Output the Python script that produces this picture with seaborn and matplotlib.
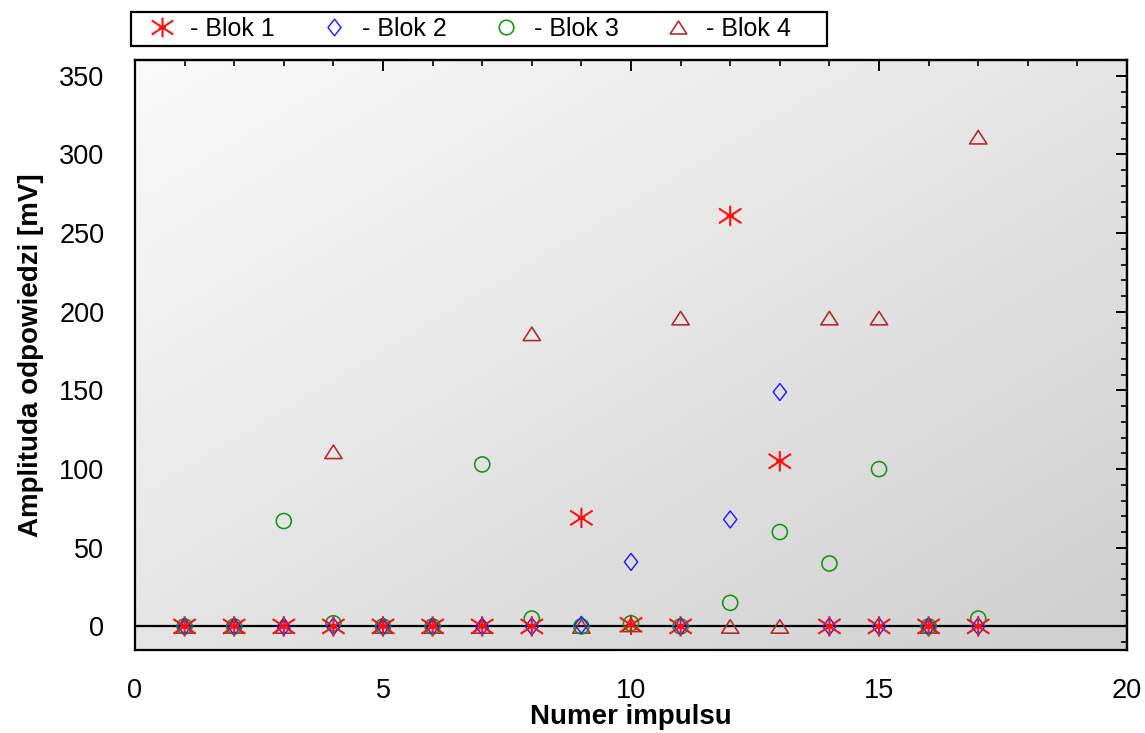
import numpy as np
import pandas as pd
import matplotlib
matplotlib.use("Agg")
import matplotlib.pyplot as plt
from matplotlib.lines import Line2D
from matplotlib.path import Path
from matplotlib.patches import Rectangle
from matplotlib.colors import LinearSegmentedColormap
from matplotlib.ticker import MultipleLocator
import seaborn as sns

# Pulse numbers and response amplitudes [mV] for each block
impulsy = list(range(1, 18))
blok1 = [0, 0, 0, 0, 0, 0, 0, 0, 69, 1, 0, 261, 105, 0, 0, 0, 0]
blok2 = [0, 0, 0, 0, 0, 0, 0, 0, 1, 41, 0, 68, 149, 0, 0, 0, 0]
blok3 = [0, 0, 67, 2, 0, 0, 103, 5, 0, 2, 0, 15, 60, 40, 100, 0, 5]
blok4 = [0, 0, 0, 111, 0, 0, 0, 186, 0, 1, 196, 0, 0, 196, 196, 0, 311]
etykiety = ["- Blok 1", "- Blok 2", "- Blok 3", "- Blok 4"]

sns.set_theme(style="white")
plt.rcParams["font.family"] = ["Liberation Sans", "DejaVu Sans"]

# Marker shapes: asterisk, narrow diamond, flat triangle
M = Path.MOVETO
L = Path.LINETO
gwiazdka = Path(
    [(0, -1), (0, 1), (-1.1, -0.72), (1.1, 0.72), (-1.1, 0.72), (1.1, -0.72),
     (-0.35, 0), (0.35, 0)],
    [M, L, M, L, M, L, M, L])
romb = Path([(0, 1), (0.78, 0), (0, -1), (-0.78, 0), (0, 1)],
            [M, L, L, L, Path.CLOSEPOLY])
trojkat = Path([(0, 0.78), (1, -0.78), (-1, -0.78), (0, 0.78)],
               [M, L, L, Path.CLOSEPOLY])

kol1, kol2, kol3, kol4 = "#ff1010", "#2020ff", "#139413", "#b02828"

fig = plt.figure(figsize=(11.45, 7.33), dpi=100)
ax = fig.add_axes([0.1179, 0.1132, 0.8664, 0.8048])

# Diagonal grey gradient behind the data (light top-left, darker bottom-right)
gx, gy = np.meshgrid(np.linspace(0, 1, 256), np.linspace(0, 1, 256))
grad = (gx + gy) / 2.0
szary = LinearSegmentedColormap.from_list("szary", ["#fafafa", "#cfcfcf"])
ax.imshow(grad, extent=[0, 1, 0, 1], transform=ax.transAxes, cmap=szary,
          vmin=0, vmax=1, aspect="auto", zorder=0, origin="upper",
          interpolation="bilinear")

df = pd.DataFrame({"impuls": impulsy, "b1": blok1, "b2": blok2, "b3": blok3, "b4": blok4})

ax.axhline(0, color="black", lw=1.6, zorder=1)

sns.scatterplot(data=df, x="impuls", y="b4", ax=ax, marker=trojkat, s=155,
                facecolor="none", edgecolor=kol4, linewidth=1.15, zorder=2)
sns.scatterplot(data=df, x="impuls", y="b3", ax=ax, marker="o", s=118,
                facecolor="none", edgecolor=kol3, linewidth=1.15, zorder=3)
sns.scatterplot(data=df, x="impuls", y="b2", ax=ax, marker=romb, s=150,
                facecolor="none", edgecolor=kol2, linewidth=1.05, zorder=4)
sns.scatterplot(data=df, x="impuls", y="b1", ax=ax, marker=gwiazdka, s=260,
                facecolor="none", edgecolor=kol1, linewidth=1.5, zorder=5)

ax.set_xlim(0, 20)
ax.set_ylim(-15, 360)
ax.xaxis.set_major_locator(MultipleLocator(5))
ax.xaxis.set_minor_locator(MultipleLocator(1))
ax.set_yticks(np.arange(0, 351, 50))
ax.yaxis.set_minor_locator(MultipleLocator(10))

for s in ax.spines.values():
    s.set_color("black")
    s.set_linewidth(1.6)

# Bottom/left ticks cross the spine
ax.tick_params(axis="both", which="both", direction="inout", colors="black",
               labelsize=19.5, top=False, right=False, labelcolor="black")
ax.tick_params(axis="both", which="major", length=16, width=1.4)
ax.tick_params(axis="both", which="minor", length=8.6, width=1.2)
ax.tick_params(axis="x", which="major", pad=12)
ax.tick_params(axis="y", which="major", pad=14)

# Top/right ticks point inward only
sx = ax.secondary_xaxis("top")
sx.xaxis.set_major_locator(MultipleLocator(5))
sx.xaxis.set_minor_locator(MultipleLocator(1))
sx.tick_params(which="both", direction="in", labeltop=False, colors="black")
sx.tick_params(which="major", length=8, width=1.4)
sx.tick_params(which="minor", length=4.3, width=1.2)
sx.spines["top"].set_linewidth(1.6)
sy = ax.secondary_yaxis("right")
sy.set_yticks(np.arange(0, 351, 50))
sy.yaxis.set_minor_locator(MultipleLocator(10))
sy.tick_params(which="both", direction="in", labelright=False, colors="black")
sy.tick_params(which="major", length=8, width=1.4)
sy.tick_params(which="minor", length=4.3, width=1.2)
sy.spines["right"].set_linewidth(1.6)

ax.set_xlabel("Numer impulsu", fontsize=20, fontweight="bold", labelpad=0,
              color="black")
ax.set_ylabel("Amplituda odpowiedzi [mV]", fontsize=20, fontweight="bold",
              labelpad=11, color="black")

uchwyty = [
    Line2D([], [], ls="", marker=gwiazdka, ms=15.5, mfc="none", mec=kol1, mew=1.5),
    Line2D([], [], ls="", marker=romb, ms=12, mfc="none", mec=kol2, mew=1.05),
    Line2D([], [], ls="", marker="o", ms=10.5, mfc="none", mec=kol3, mew=1.15),
    Line2D([], [], ls="", marker=trojkat, ms=12, mfc="none", mec=kol4, mew=1.15),
]
leg = fig.legend(uchwyty, etykiety, ncol=4, loc="center",
                 bbox_to_anchor=(0.4105, 0.9604), fontsize=18, frameon=False,
                 handletextpad=0.62, columnspacing=1.86, borderpad=0.0,
                 handlelength=1.0, borderaxespad=0)
for t in leg.get_texts():
    t.set_color("black")

# Legend box
fig.patches.append(Rectangle((131 / 1145, 1 - 46 / 733), 696 / 1145, 34 / 733,
                             transform=fig.transFigure, facecolor="none",
                             edgecolor="black", linewidth=1.6, zorder=5))
fig.patches.insert(0, Rectangle((131 / 1145, 1 - 46 / 733), 696 / 1145, 34 / 733,
                                transform=fig.transFigure, facecolor="white",
                                edgecolor="none", zorder=-1))

fig.savefig("out.png", dpi=100)
